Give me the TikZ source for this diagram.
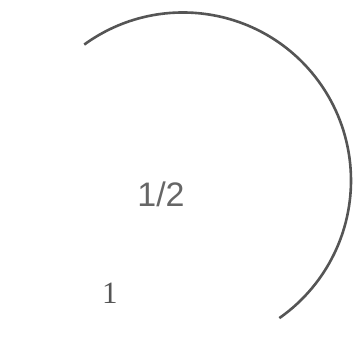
\documentclass[tikz,border=0pt]{standalone}
\usepackage{fontspec}
\newfontfamily\sansf{Liberation Sans}
\newfontfamily\seriff{Liberation Serif}
\definecolor{arcgray}{HTML}{555555}
\definecolor{txtgray}{HTML}{666666}
\tikzset{
  arcline/.style={draw=arcgray, line width=2.6pt},
  bigfrac/.style={inner sep=0pt, text=txtgray, font=\sansf\fontsize{34}{40}\selectfont},
  numlabel/.style={inner sep=0pt, text=arcgray, font=\seriff\fontsize{31}{36}\selectfont}
}
\begin{document}
\begin{tikzpicture}
\useasboundingbox (0pt,0pt) rectangle (357pt,350pt);
\coordinate (c) at (183pt,169.5pt);
\draw[arcline] ([shift={(126:168pt)}]c) arc[start angle=126, end angle=-55, radius=168pt];
\node[bigfrac] (frac) at (161pt,156pt) {1/2};
\node[numlabel] (one) at (110pt,57pt) {1};
\end{tikzpicture}
\end{document}
